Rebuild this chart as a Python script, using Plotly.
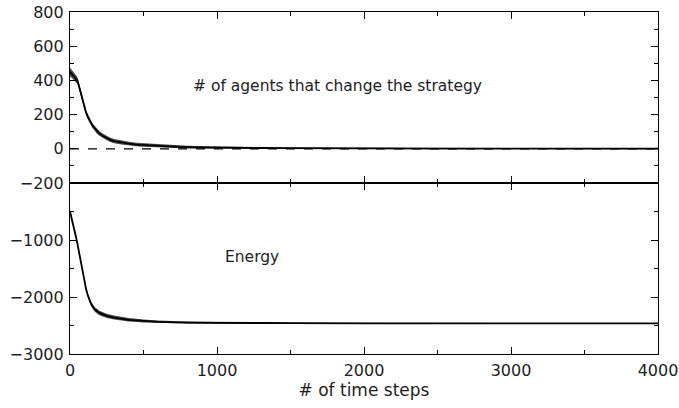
import plotly.graph_objects as go

# ---- data ----
t_changes = [0, 10, 20, 30, 40, 50, 60, 70, 80, 90, 100, 110, 120, 130, 140, 150, 160, 170, 180,
             200, 225, 250, 275, 300, 350, 400, 450, 500, 600, 700, 800, 900, 1000, 1200, 1400,
             1600, 2000, 2500, 3000, 3500, 4000]
changes = [450, 440, 430, 420, 410, 400, 370, 335, 300, 270, 240, 210, 190, 170, 155, 140, 128, 117, 105,
           90, 75, 62, 52, 45, 36, 30, 25, 22, 17, 13, 10, 8, 7, 5, 4,
           3, 2, 1.5, 1, 1, 1]
changes_noise = [25, 25, 25, 22, 22, 20, 18, 18, 18, 16, 16, 15, 15, 15, 15, 14, 14, 14, 14,
                 13, 13, 12, 12, 12, 11, 11, 10, 10, 9, 8, 8, 7, 6, 6, 5,
                 5, 4, 4, 3, 3, 3]

t_energy = [0, 10, 20, 30, 40, 50, 60, 70, 80, 90, 100, 110, 120, 130, 140, 150, 170, 200, 250,
            300, 350, 400, 500, 600, 800, 1000, 1500, 2000, 3000, 4000]
energy = [-500, -600, -700, -820, -940, -1060, -1200, -1350, -1500, -1640, -1760, -1870, -1960, -2040,
          -2100, -2150, -2220, -2280, -2330, -2360, -2385, -2400, -2420, -2435, -2448, -2455, -2460,
          -2462, -2463, -2463]
energy_noise = [30, 30, 30, 30, 30, 30, 30, 30, 30, 30, 30, 32, 35, 38, 40, 42, 42, 40, 38,
                35, 32, 30, 26, 22, 18, 15, 10, 8, 6, 6]

x_ticks = [0, 1000, 2000, 3000, 4000]
top_ticks = [-200, 0, 200, 400, 600, 800]
bottom_ticks = [-3000, -2000, -1000]

FONT = "DejaVu Sans, Liberation Sans, Arial, sans-serif"
TXT = "#1e1e1e"

fig = go.Figure()

# top panel: band + line
fig.add_trace(go.Scatter(x=t_changes, y=[v + n for v, n in zip(changes, changes_noise)],
                         mode="lines", line=dict(width=0), showlegend=False,
                         xaxis="x2", yaxis="y2", hoverinfo="skip"))
fig.add_trace(go.Scatter(x=t_changes, y=[v - n for v, n in zip(changes, changes_noise)],
                         mode="lines", line=dict(width=0), fill="tonexty",
                         fillcolor="rgba(30,30,30,0.8)", showlegend=False,
                         xaxis="x2", yaxis="y2", hoverinfo="skip"))
fig.add_trace(go.Scatter(x=t_changes, y=changes, mode="lines",
                         line=dict(color="black", width=1.8), showlegend=False,
                         xaxis="x2", yaxis="y2"))
# dashed zero line
fig.add_trace(go.Scatter(x=[x_ticks[0], x_ticks[-1]], y=[0, 0], mode="lines",
                         line=dict(color="black", width=1.2, dash="dash"), showlegend=False,
                         xaxis="x2", yaxis="y2", hoverinfo="skip"))

# bottom panel
fig.add_trace(go.Scatter(x=t_energy, y=[v + n for v, n in zip(energy, energy_noise)],
                         mode="lines", line=dict(width=0), showlegend=False,
                         xaxis="x", yaxis="y", hoverinfo="skip"))
fig.add_trace(go.Scatter(x=t_energy, y=[v - n for v, n in zip(energy, energy_noise)],
                         mode="lines", line=dict(width=0), fill="tonexty",
                         fillcolor="rgba(30,30,30,0.8)", showlegend=False,
                         xaxis="x", yaxis="y", hoverinfo="skip"))
fig.add_trace(go.Scatter(x=t_energy, y=energy, mode="lines",
                         line=dict(color="black", width=1.8), showlegend=False,
                         xaxis="x", yaxis="y"))

axis_common = dict(showline=True, linecolor="black", linewidth=1.2, mirror="ticks",
                   ticks="inside", tickcolor="black", tickwidth=1, showgrid=False,
                   zeroline=False, automargin=False, ticklabelstandoff=2,
                   tickfont=dict(family=FONT, size=16, color=TXT))

fig.update_layout(
    width=679, height=408,
    margin=dict(l=70, r=21, t=12, b=54),
    paper_bgcolor="white", plot_bgcolor="white",
    font=dict(family=FONT, color=TXT),
    xaxis=dict(domain=[0, 1], range=[0, 4000], anchor="y", tickvals=x_ticks, ticklen=7,
               minor=dict(ticks="inside", dtick=500, tick0=0, ticklen=4, tickcolor="black"),
               title=dict(text="# of time steps", font=dict(family=FONT, size=17, color=TXT), standoff=4),
               **axis_common),
    yaxis=dict(domain=[0, 0.5], range=[-3000, 0], anchor="x", tickvals=bottom_ticks, ticklen=7,
               minor=dict(ticks="inside", dtick=500, tick0=0, ticklen=4, tickcolor="black"),
               **axis_common),
    xaxis2=dict(domain=[0, 1], range=[0, 4000], anchor="y2", tickvals=x_ticks, ticklen=7,
                showticklabels=False,
                minor=dict(ticks="inside", dtick=500, tick0=0, ticklen=4, tickcolor="black"),
                **axis_common),
    yaxis2=dict(domain=[0.5, 1], range=[-200, 800], anchor="x2", tickvals=top_ticks, ticklen=7,
                minor=dict(ticks="inside", dtick=100, tick0=0, ticklen=4, tickcolor="black"),
                **axis_common),
    annotations=[
        dict(text="# of agents that change the strategy", x=0.455, y=367, xref="paper", yref="y2",
             xanchor="center", showarrow=False, font=dict(family=FONT, size=15.5, color=TXT)),
        dict(text="Energy", x=0.31, y=-1300, xref="paper", yref="y",
             xanchor="center", showarrow=False, font=dict(family=FONT, size=15.5, color=TXT)),
    ],
)

fig.write_html("out.html")
